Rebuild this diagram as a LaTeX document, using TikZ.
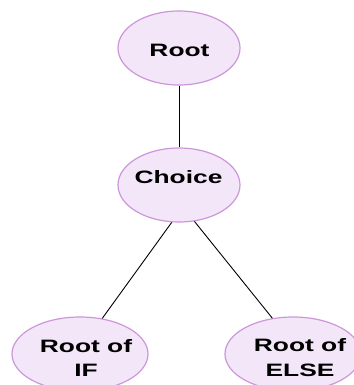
\documentclass[tikz,border=0pt]{standalone}
\usepackage{fontspec}
\usetikzlibrary{shapes.geometric}
\newfontfamily\lblfont{Liberation Sans}[FakeStretch=1.47]
\definecolor{bubblefill}{RGB}{243,230,248}
\definecolor{bubbleline}{RGB}{206,150,218}
\tikzset{
  bubble/.style={ellipse, draw=bubbleline, fill=bubblefill, line width=1.2bp, inner sep=0pt},
  lbl/.style={font=\lblfont\bfseries\fontsize{18}{25}\selectfont, align=center, inner sep=0pt},
  link/.style={draw=black, line width=0.9bp}
}
\begin{document}
\begin{tikzpicture}[x=1bp, y=-1bp]
  \useasboundingbox (0,0) rectangle (354,385);
  \clip (0,0) rectangle (354,385);
  % tree nodes
  \node[bubble, minimum width=122bp, minimum height=74bp] (root) at (179,48) {};
  \node[bubble, minimum width=122bp, minimum height=74bp] (choice) at (179,185) {};
  \node[bubble, minimum width=136bp, minimum height=74bp] (ifroot) at (80,354) {};
  \node[bubble, minimum width=136bp, minimum height=74bp] (elseroot) at (293,354) {};
  % labels
  \node[lbl, anchor=base] (roottxt) at (179.5,56) {Root};
  \node[lbl, anchor=base] (choicetxt) at (178.5,183) {Choice};
  \node[lbl] (iftxt) at (86,358) {Root of\\IF};
  \node[lbl] (elsetxt) at (300,358) {Root of\\ELSE};
  % edges
  \draw[link] (root.south) -- (choice.north);
  \draw[link] (choice.259) -- (ifroot.58);
  \draw[link] (choice.293) -- (elseroot.120);
\end{tikzpicture}
\end{document}
